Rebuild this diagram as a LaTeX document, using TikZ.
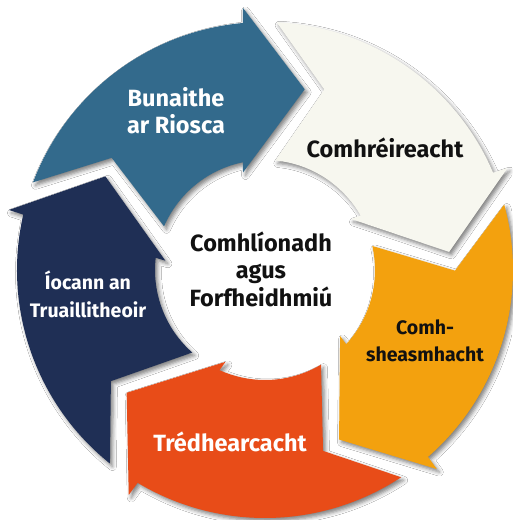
\documentclass[tikz,border=0pt]{standalone}
\usepackage{fontspec}
\setmainfont{Fira Sans}
\usetikzlibrary{shadows.blur}
\definecolor{cBlue}{HTML}{336A8C}
\definecolor{cCream}{HTML}{F7F7EF}
\definecolor{cOrange}{HTML}{F3A10E}
\definecolor{cRed}{HTML}{E84C18}
\definecolor{cNavy}{HTML}{1F2F55}
\definecolor{cInk}{HTML}{111111}
\newcommand\segpath{(159.3:248) arc[start angle=159.3, end angle=95.1, radius=248] -- (94.8:263) -- (77.6:185) -- (102.7:100) -- (101.6:110) arc[start angle=101.6, end angle=156.6, radius=110] -- (143.8:190) -- cycle}
\tikzset{
  segment/.style={blur shadow={shadow xshift=2.5pt, shadow yshift=-3pt, shadow blur radius=4pt, shadow opacity=50}},
  lbl/.style={font=\bfseries\fontsize{23.5}{27}\selectfont, align=center, inner sep=0pt},
}
\begin{document}
\begin{tikzpicture}[x=1pt,y=1pt]
\fill[white] (-265,-250) rectangle (247,270);
\useasboundingbox (-265,-250) rectangle (247,270);
\foreach \k/\c in {0/cBlue,1/cCream,2/cOrange,3/cRed,4/cNavy}{
  \fill[segment, fill=\c, rotate=-72*\k] \segpath;
}
\node[lbl, text=white] (risk) at (-89,159) {Bunaithe\\ar Riosca};
\node[lbl, text=cInk] (prop) at (120,122) {Comhréireacht};
\node[lbl, text=cInk, font=\bfseries\fontsize{19.5}{27}\selectfont] (cons) at (160,-71) {Comh-\\sheasmhacht};
\node[lbl, text=white] (trans) at (-35,-172) {Trédhearcacht};
\node[lbl, text=white, font=\bfseries\fontsize{19.5}{28}\selectfont] (poll) at (-177,-24) {Íocann an\\Truaillitheoir};
\node[lbl, text=cInk, font=\bfseries\fontsize{23.5}{27.5}\selectfont] (centre) at (-4,1) {Comhlíonadh\\agus\\Forfheidhmiú};
\end{tikzpicture}
\end{document}
